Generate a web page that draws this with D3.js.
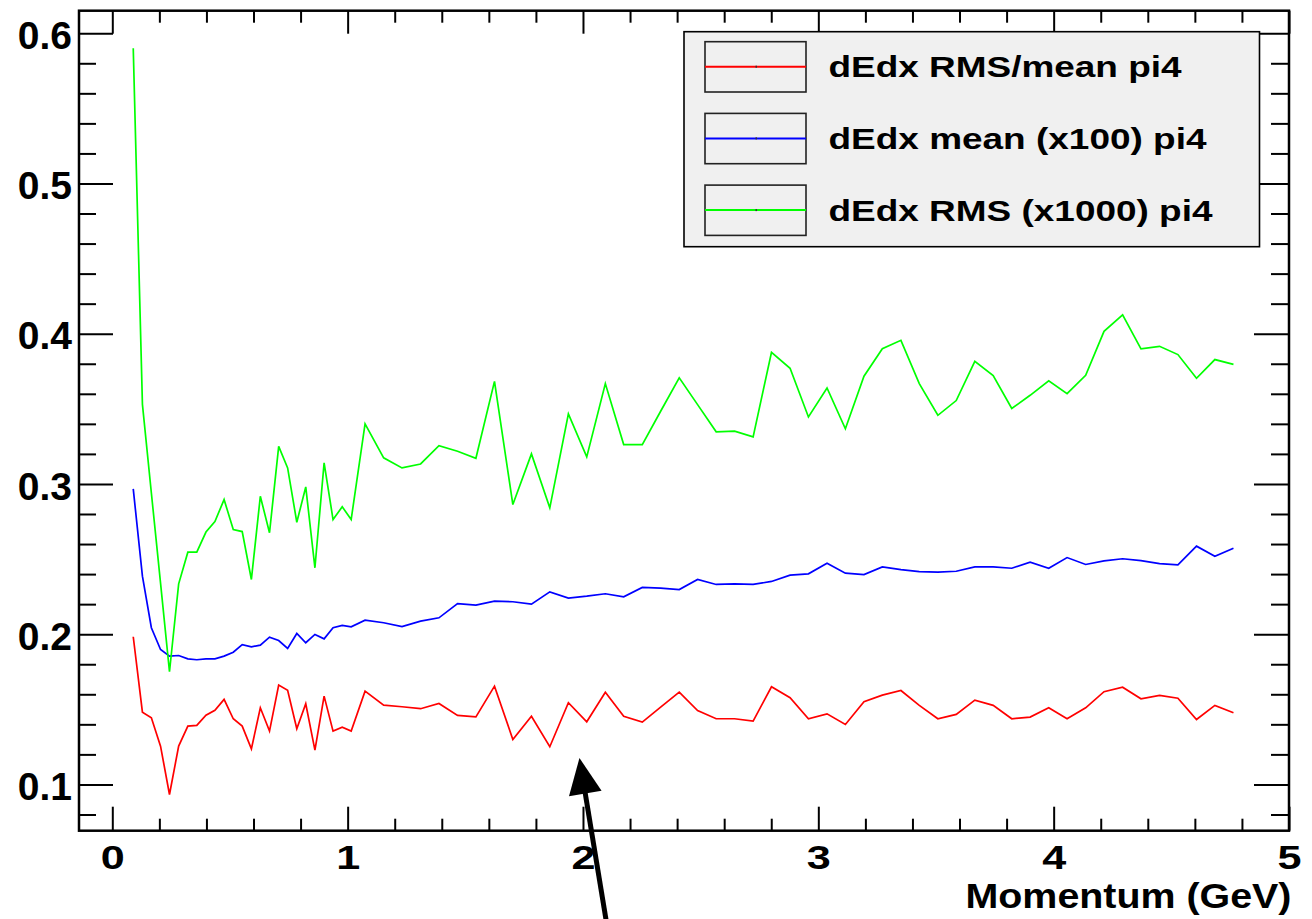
<!DOCTYPE html>
<html><head><meta charset="utf-8">
<script src="https://cdn.jsdelivr.net/npm/d3@7"></script>
<style>
body{margin:0;background:#fff}
svg{display:block}
text{font-family:"Liberation Sans",Arial,Helvetica,sans-serif;font-weight:bold;fill:#000}
</style>
</head><body>
<svg id="c" width="1312" height="919"></svg>
<script>
// ---- data ----
const momentum = [0.089,0.128,0.166,0.205,0.243,0.282,0.321,0.359,0.398,0.436,0.475,0.514,0.552,0.591,0.629,0.668,0.707,0.745,0.784,0.822,0.861,0.900,0.938,0.977,1.015,
1.074,1.153,1.231,1.310,1.388,1.467,1.545,1.624,1.702,1.781,1.859,1.938,2.016,2.095,2.173,2.252,2.330,2.409,2.487,2.566,2.644,2.723,2.801,2.880,2.958,3.037,3.115,3.194,3.272,3.351,3.429,3.508,3.586,3.665,3.743,3.822,3.900,3.979,4.057,4.136,4.214,4.293,4.371,4.450,4.528,4.607,4.685,4.764];

const rmsOverMean = [0.1983,0.1481,0.1444,0.1255,0.0933,0.1255,0.1388,0.1393,0.1461,0.1494,0.1566,0.1437,0.1388,0.1237,0.1510,0.1355,0.1661,0.1627,0.1371,0.1537,0.1228,0.1588,0.1355,0.1381,0.1355,
0.1621,0.1528,0.1517,0.1504,0.1539,0.1459,0.1450,0.1654,0.1299,0.1454,0.1251,0.1544,0.1417,0.1614,0.1454,0.1415,0.1514,0.1614,0.1492,0.1437,0.1437,0.1421,0.1650,0.1577,0.1437,
0.1470,0.1399,0.1550,0.1594,0.1625,0.1526,0.1437,0.1466,0.1561,0.1526,0.1437,0.1448,0.1510,0.1437,0.1510,0.1617,0.1647,0.1570,0.1592,0.1574,0.1432,0.1526,0.1477];

const meanX100 = [0.2967,0.2386,0.2043,0.1898,0.1854,0.1858,0.1836,0.1830,0.1836,0.1836,0.1854,0.1880,0.1931,0.1916,0.1927,0.1980,0.1958,0.1905,0.2005,0.1943,0.1998,0.1969,0.2043,0.2058,0.2049,
0.2093,0.2076,0.2051,0.2087,0.2109,0.2204,0.2193,0.2220,0.2216,0.2200,0.2282,0.2240,0.2253,0.2269,0.2249,0.2311,0.2306,0.2297,0.2364,0.2331,0.2335,0.2331,0.2351,0.2393,0.2402,
0.2472,0.2406,0.2397,0.2448,0.2430,0.2417,0.2413,0.2419,0.2448,0.2448,0.2439,0.2479,0.2439,0.2510,0.2464,0.2488,0.2502,0.2490,0.2470,0.2462,0.2586,0.2519,0.2572];

const rmsX1000 = [0.590,0.353,0.294,0.234,0.175,0.2335,0.2546,0.2546,0.268,0.275,0.2896,0.2697,0.2683,0.2364,0.2918,0.2675,0.325,0.3107,0.2745,0.298,0.2442,0.314,0.2763,0.2848,0.2763,
0.340,0.3174,0.3107,0.3133,0.3255,0.3218,0.3171,0.3683,0.2863,0.320,0.2841,0.3466,0.318,0.3668,0.3262,0.3262,0.3484,0.3706,0.3528,0.3347,0.3351,0.3313,0.3876,0.377,0.3446,
0.3639,0.3367,0.3717,0.390,0.3956,0.3668,0.3457,0.3555,0.3816,0.3721,0.3502,0.359,0.3686,0.3601,0.3723,0.4016,0.4125,0.3899,0.3916,0.3861,0.3703,0.3828,0.3796];

const seriesNames = ["dEdx RMS/mean pi4", "dEdx mean (x100) pi4", "dEdx RMS (x1000) pi4"];
const seriesColors = ["#ff0000", "#0000ff", "#00ff00"];
const xMajorTicks = [0, 1, 2, 3, 4, 5];
const xTickLabels = ["0", "1", "2", "3", "4", "5"];
const yMajorTicks = [0.1, 0.2, 0.3, 0.4, 0.5, 0.6];
const yTickLabels = ["0.1", "0.2", "0.3", "0.4", "0.5", "0.6"];
const xTitle = "Momentum (GeV)";
const xDomain = [-0.1415, 5.0];
const yDomain = [0.0692, 0.615];
const arrowTail = {x: 2.100, y: 0.008};
const arrowTip = {x: 1.985, y: 0.1176};

// ---- layout ----
const L = 79, R = 1289, T = 10.7, B = 830.7;
const svg = d3.select("#c");
const x = d3.scaleLinear().domain(xDomain).range([L, R]);
const y = d3.scaleLinear().domain(yDomain).range([B, T]);

const xMinor = d3.range(0.2, 5.0001, 0.2).filter(v => Math.abs(v - Math.round(v)) > 1e-6);
const yMinor = d3.range(0.08, 0.6001, 0.02).filter(v => Math.abs(v * 10 - Math.round(v * 10)) > 1e-6);

function styleAxis(g) {
  g.select(".domain").remove();
  g.selectAll(".tick line").attr("stroke", "#000").attr("stroke-width", 2);
}

// bottom
svg.append("g").attr("transform", `translate(0,${B})`)
  .call(d3.axisBottom(x).tickValues(xMajorTicks).tickSizeInner(-24).tickSizeOuter(0)
    .tickFormat((d, i) => xTickLabels[i]))
  .call(styleAxis)
  .call(g => g.selectAll(".tick text")
    .attr("y", 38.6).attr("dy", null)
    .attr("font-size", 32.5).attr("font-family", null)
    .attr("textLength", 24).attr("lengthAdjust", "spacingAndGlyphs"));
svg.append("g").attr("transform", `translate(0,${B})`)
  .call(d3.axisBottom(x).tickValues(xMinor).tickSizeInner(-12).tickSizeOuter(0).tickFormat(""))
  .call(styleAxis);
// top
svg.append("g").attr("transform", `translate(0,${T})`)
  .call(d3.axisTop(x).tickValues(xMajorTicks).tickSizeInner(-23).tickSizeOuter(0).tickFormat(""))
  .call(styleAxis);
svg.append("g").attr("transform", `translate(0,${T})`)
  .call(d3.axisTop(x).tickValues(xMinor).tickSizeInner(-12).tickSizeOuter(0).tickFormat(""))
  .call(styleAxis);
// left
svg.append("g").attr("transform", `translate(${L},0)`)
  .call(d3.axisLeft(y).tickValues(yMajorTicks).tickSizeInner(-34).tickSizeOuter(0).tickPadding(7)
    .tickFormat((d, i) => yTickLabels[i]))
  .call(styleAxis)
  .call(g => g.selectAll(".tick text")
    .attr("dy", "0.39em").attr("font-size", 39).attr("font-family", null));
svg.append("g").attr("transform", `translate(${L},0)`)
  .call(d3.axisLeft(y).tickValues(yMinor).tickSizeInner(-17).tickSizeOuter(0).tickFormat(""))
  .call(styleAxis);
// right
svg.append("g").attr("transform", `translate(${R},0)`)
  .call(d3.axisRight(y).tickValues(yMajorTicks).tickSizeInner(-35).tickSizeOuter(0).tickFormat(""))
  .call(styleAxis);
svg.append("g").attr("transform", `translate(${R},0)`)
  .call(d3.axisRight(y).tickValues(yMinor).tickSizeInner(-18).tickSizeOuter(0).tickFormat(""))
  .call(styleAxis);

// frame
svg.append("rect").attr("x", L).attr("y", T).attr("width", R - L).attr("height", B - T)
  .attr("fill", "none").attr("stroke", "#000").attr("stroke-width", 2.5);

// series
const series = [rmsOverMean, meanX100, rmsX1000];
const line = d3.line().x(d => x(d[0])).y(d => y(d[1]));
series.forEach((vals, k) => {
  svg.append("path")
    .datum(momentum.map((m, i) => [m, vals[i]]))
    .attr("d", line)
    .attr("fill", "none")
    .attr("stroke", seriesColors[k])
    .attr("stroke-width", 1.7)
    .attr("stroke-linejoin", "miter");
});

// axis title
svg.append("text").attr("x", 1291.5).attr("y", 908.3)
  .attr("text-anchor", "end").attr("font-size", 35.5)
  .attr("textLength", 326).attr("lengthAdjust", "spacingAndGlyphs")
  .text(xTitle);

// legend
const leg = svg.append("g");
leg.append("rect").attr("x", 684).attr("y", 31.7).attr("width", 575.5).attr("height", 215)
  .attr("fill", "#f0f0f0").attr("stroke", "#000").attr("stroke-width", 1.6);
const legTextW = [353, 378, 384];
seriesNames.forEach((name, k) => {
  const top = 41.7 + k * 71.7;
  leg.append("rect").attr("x", 705).attr("y", top).attr("width", 101).attr("height", 50.3)
    .attr("fill", "none").attr("stroke", "#222").attr("stroke-width", 1.6);
  leg.append("line").attr("x1", 705).attr("x2", 806).attr("y1", top + 25).attr("y2", top + 25)
    .attr("stroke", seriesColors[k]).attr("stroke-width", 2);
  leg.append("rect").attr("x", 755.5).attr("y", top + 24).attr("width", 1.5).attr("height", 2)
    .attr("fill", "#333");
  leg.append("text").attr("x", 828.5).attr("y", top + 35.6)
    .attr("font-size", 30)
    .attr("textLength", legTextW[k]).attr("lengthAdjust", "spacingAndGlyphs")
    .text(name);
});

// arrow annotation
const tx = x(arrowTail.x), ty = y(arrowTail.y), hx = x(arrowTip.x), hy = y(arrowTip.y);
const len = Math.hypot(hx - tx, hy - ty), ux = (hx - tx) / len, uy = (hy - ty) / len;
const headL = 36, headW = 16.5;
const bx = hx - ux * headL, by = hy - uy * headL;
svg.append("line").attr("x1", tx).attr("y1", ty).attr("x2", bx + ux * 4).attr("y2", by + uy * 4)
  .attr("stroke", "#000").attr("stroke-width", 5);
svg.append("path")
  .attr("d", `M${hx},${hy}L${bx - uy * headW},${by + ux * headW}L${bx + uy * headW},${by - ux * headW}Z`)
  .attr("fill", "#000");
</script>
</body></html>
